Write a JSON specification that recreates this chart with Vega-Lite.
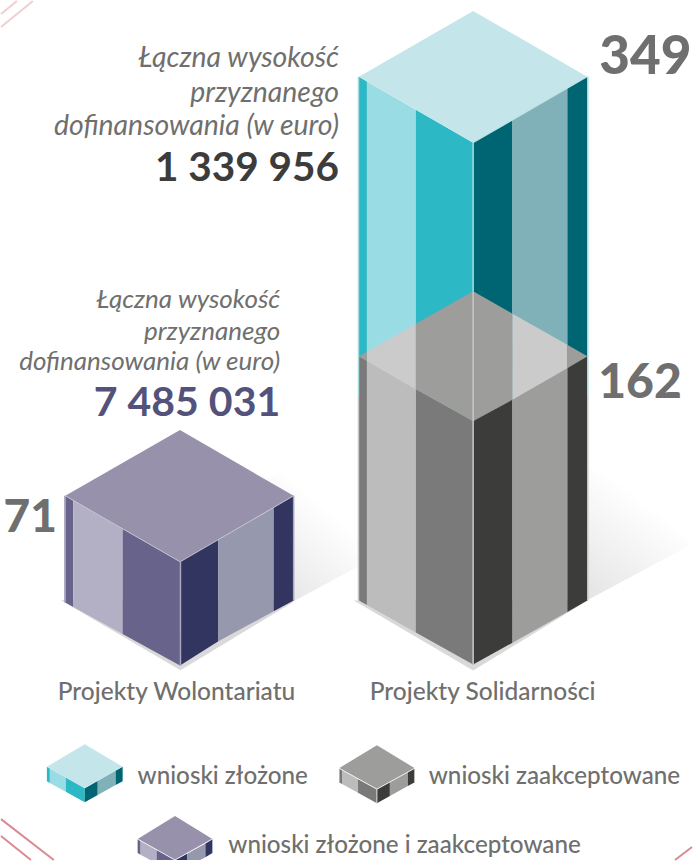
{"$schema":"https://vega.github.io/schema/vega-lite/v6.json","width":693,"height":861,"padding":0,"autosize":{"type":"fit","contains":"padding"},"background":"white","view":{"stroke":null},
"datasets":{
"shapes":[
{"p":"tb1","c":"cyan","x":359,"y":76,"y2":356},{"p":"tb1","c":"cyan","x":367,"y":80.6,"y2":360.6},
{"p":"tb2","c":"cyanL","x":367,"y":80.6,"y2":360.6},{"p":"tb2","c":"cyanL","x":416,"y":108.9,"y2":388.9},
{"p":"tb3","c":"cyan","x":416,"y":108.9,"y2":388.9},{"p":"tb3","c":"cyan","x":473.5,"y":142,"y2":421},
{"p":"tb4","c":"teal","x":473.5,"y":142,"y2":421},{"p":"tb4","c":"teal","x":513,"y":119.5,"y2":399.5},
{"p":"tb5","c":"tealL","x":513,"y":119.5,"y2":399.5},{"p":"tb5","c":"tealL","x":568,"y":87.8,"y2":367.8},
{"p":"tb6","c":"teal","x":568,"y":87.8,"y2":367.8},{"p":"tb6","c":"teal","x":588,"y":76,"y2":356},
{"p":"tbt","c":"iceTop","x":359,"y":76,"y2":76},{"p":"tbt","c":"iceTop","x":473.5,"y":10,"y2":142},{"p":"tbt","c":"iceTop","x":588,"y":76,"y2":76},
{"p":"tg1","c":"grayD","x":359,"y":356,"y2":601},{"p":"tg1","c":"grayD","x":367,"y":360.6,"y2":605.5},
{"p":"tg2","c":"grayL","x":367,"y":360.6,"y2":605.5},{"p":"tg2","c":"grayL","x":416,"y":388.9,"y2":632.9},
{"p":"tg3","c":"grayD","x":416,"y":388.9,"y2":632.9},{"p":"tg3","c":"grayD","x":473.5,"y":421,"y2":665},
{"p":"tg4","c":"char","x":473.5,"y":421,"y2":665},{"p":"tg4","c":"char","x":513,"y":399.5,"y2":643.2},
{"p":"tg5","c":"midG","x":513,"y":399.5,"y2":643.2},{"p":"tg5","c":"midG","x":568,"y":367.8,"y2":612.4},
{"p":"tg6","c":"char","x":568,"y":367.8,"y2":612.4},{"p":"tg6","c":"char","x":588,"y":356,"y2":601},
{"p":"gt1","c":"midG","x":359,"y":356,"y2":356},{"p":"gt1","c":"midG","x":367,"y":351.5,"y2":360.6},
{"p":"gt2","c":"paleG","x":367,"y":351.5,"y2":360.6},{"p":"gt2","c":"paleG","x":416,"y":323.6,"y2":388.9},
{"p":"gt3","c":"midG","x":416,"y":323.6,"y2":388.9},{"p":"gt3","c":"midG","x":473.5,"y":291,"y2":421},{"p":"gt3","c":"midG","x":513,"y":313.4,"y2":399.5},
{"p":"gt5","c":"paleG","x":513,"y":313.4,"y2":399.5},{"p":"gt5","c":"paleG","x":568,"y":344.6,"y2":367.8},
{"p":"gt6","c":"midG","x":568,"y":344.6,"y2":367.8},{"p":"gt6","c":"midG","x":588,"y":356,"y2":356},
{"p":"cbase","c":"base","x":60,"y":600.6,"y2":600.6},{"p":"cbase","c":"base","x":180,"y":600,"y2":670.7},{"p":"cbase","c":"base","x":294,"y":602,"y2":602},
{"p":"c1","c":"vio","x":64.5,"y":496,"y2":603},{"p":"c1","c":"vio","x":72.5,"y":500.6,"y2":607.4},
{"p":"c2","c":"vioL","x":72.5,"y":500.6,"y2":607.4},{"p":"c2","c":"vioL","x":122,"y":529,"y2":634.5},
{"p":"c3","c":"vio","x":122,"y":529,"y2":634.5},{"p":"c3","c":"vio","x":179.5,"y":562,"y2":666},
{"p":"c4","c":"navy","x":179.5,"y":562,"y2":666},{"p":"c4","c":"navy","x":218,"y":539.7,"y2":641.7},
{"p":"c5","c":"navyL","x":218,"y":539.7,"y2":641.7},{"p":"c5","c":"navyL","x":273.5,"y":507.8,"y2":611.7},
{"p":"c6","c":"navy","x":273.5,"y":507.8,"y2":611.7},{"p":"c6","c":"navy","x":293.5,"y":496,"y2":601},
{"p":"ct","c":"vioTop","x":64.5,"y":496,"y2":496},{"p":"ct","c":"vioTop","x":179.5,"y":430,"y2":562},{"p":"ct","c":"vioTop","x":293.5,"y":496,"y2":496},
{"p":"a1","c":"cyan","x":46,"y":767.5,"y2":782},{"p":"a1","c":"cyan","x":49,"y":769.2,"y2":783.7},
{"p":"a2","c":"cyanL","x":49,"y":769.2,"y2":783.7},{"p":"a2","c":"cyanL","x":65,"y":778.2,"y2":792.5},
{"p":"a3","c":"cyan","x":65,"y":778.2,"y2":792.5},{"p":"a3","c":"cyan","x":84,"y":789,"y2":803},
{"p":"a4","c":"teal","x":84,"y":789,"y2":803},{"p":"a4","c":"teal","x":97,"y":781.6,"y2":795.8},
{"p":"a5","c":"tealL","x":97,"y":781.6,"y2":795.8},{"p":"a5","c":"tealL","x":115,"y":771.4,"y2":785.9},
{"p":"a6","c":"teal","x":115,"y":771.4,"y2":785.9},{"p":"a6","c":"teal","x":122,"y":767.5,"y2":782},
{"p":"at","c":"iceTop","x":46,"y":767.5,"y2":767.5},{"p":"at","c":"iceTop","x":84,"y":745,"y2":789},{"p":"at","c":"iceTop","x":122,"y":767.5,"y2":767.5},
{"p":"b1","c":"grayD","x":339,"y":769,"y2":783},{"p":"b1","c":"grayD","x":342,"y":770.7,"y2":784.7},
{"p":"b2","c":"grayL","x":342,"y":770.7,"y2":784.7},{"p":"b2","c":"grayL","x":358,"y":779.7,"y2":793.5},
{"p":"b3","c":"grayD","x":358,"y":779.7,"y2":793.5},{"p":"b3","c":"grayD","x":377,"y":790,"y2":804},
{"p":"b4","c":"char","x":377,"y":790,"y2":804},{"p":"b4","c":"char","x":390,"y":782.8,"y2":796.8},
{"p":"b5","c":"midG","x":390,"y":782.8,"y2":796.8},{"p":"b5","c":"midG","x":408,"y":772.9,"y2":786.9},
{"p":"b6","c":"char","x":408,"y":772.9,"y2":786.9},{"p":"b6","c":"char","x":415,"y":769,"y2":783},
{"p":"bt","c":"midG","x":339,"y":769,"y2":769},{"p":"bt","c":"midG","x":377,"y":746,"y2":790},{"p":"bt","c":"midG","x":415,"y":769,"y2":769},
{"p":"d1","c":"vio","x":137,"y":840,"y2":854},{"p":"d1","c":"vio","x":140,"y":841.7,"y2":855.7},
{"p":"d2","c":"vioL","x":140,"y":841.7,"y2":855.7},{"p":"d2","c":"vioL","x":156,"y":850.7,"y2":864.5},
{"p":"d3","c":"vio","x":156,"y":850.7,"y2":864.5},{"p":"d3","c":"vio","x":174.5,"y":861,"y2":875},
{"p":"d4","c":"navy","x":174.5,"y":861,"y2":875},{"p":"d4","c":"navy","x":187,"y":854.3,"y2":868},
{"p":"d5","c":"navyL","x":187,"y":854.3,"y2":868},{"p":"d5","c":"navyL","x":205,"y":844.4,"y2":858.2},
{"p":"d6","c":"navy","x":205,"y":844.4,"y2":858.2},{"p":"d6","c":"navy","x":212,"y":840,"y2":854},
{"p":"dt","c":"vioTop","x":137,"y":840,"y2":840},{"p":"dt","c":"vioTop","x":174.5,"y":817,"y2":861},{"p":"dt","c":"vioTop","x":212,"y":840,"y2":840}
],
"tallBase":[{"p":"tbase","c":"base","x":354,"y":601,"y2":601},{"p":"tbase","c":"base","x":473.5,"y":600,"y2":671},{"p":"tbase","c":"base","x":590,"y":600,"y2":600}],
"edges":[
{"c":"edgeB","x":473.5,"y":142,"x2":473.5,"y2":291},{"c":"edgeG","x":473.5,"y":291,"x2":473.5,"y2":665},
{"c":"edgeB","x":358.5,"y":76,"x2":358.5,"y2":395},{"c":"edgeB","x":588.5,"y":76,"x2":588.5,"y2":395},
{"c":"edgeG","x":358.5,"y":395,"x2":358.5,"y2":601},{"c":"edgeG","x":588.5,"y":395,"x2":588.5,"y2":601},
{"c":"edgeV","x":180,"y":562,"x2":180,"y2":666},{"c":"edgeV","x":64,"y":496,"x2":64,"y2":603},{"c":"edgeV","x":293.5,"y":496,"x2":293.5,"y2":601}],
"thin":[
{"c":"edgeB","x":474,"y":142,"x2":588,"y2":76},
{"c":"edgeV2","x":64.5,"y":496,"x2":179.5,"y2":562},{"c":"edgeV2","x":180,"y":562,"x2":293.5,"y2":496},
{"c":"white","x":339,"y":769,"x2":377,"y2":790},{"c":"white","x":377,"y":790,"x2":415,"y2":769},{"c":"white","x":377,"y":790,"x2":377,"y2":804},{"c":"white","x":339,"y":769,"x2":339,"y2":783},{"c":"white","x":415,"y":769,"x2":415,"y2":783},
{"c":"white","x":137,"y":840,"x2":174.5,"y2":861},{"c":"white","x":174.5,"y":861,"x2":212,"y2":840}],
"pink":[
{"c":"pinkL","x":0,"y":26,"x2":32,"y2":0},{"c":"pinkL","x":0,"y":13,"x2":16,"y2":0},
{"c":"pinkD","x":0,"y":820,"x2":53,"y2":861},{"c":"pinkD","x":0,"y":837,"x2":30,"y2":861},{"c":"pinkD","x":676,"y":861,"x2":693,"y2":848}]
},
"encoding":{},
"layer":[
{"data":{"values":[{"x":580,"y":463,"y2":605},{"x":690,"y":522,"y2":546}]},"mark":{"type":"area","fill":{"gradient":"linear","x1":0,"y1":1,"x2":0.6,"y2":0,"stops":[{"offset":0,"color":"#e2e2e2"},{"offset":0.8,"color":"#ffffff"}]}},
"encoding":{"x":{"field":"x","type":"quantitative","scale":{"domain":[0,693],"nice":false,"zero":false},"axis":null},"y":{"field":"y","type":"quantitative","scale":{"domain":[861,0],"nice":false,"zero":false},"axis":null},"y2":{"field":"y2"}}},
{"data":{"values":[{"x":265,"y":480,"y2":605},{"x":293,"y":465,"y2":602},{"x":358,"y":510,"y2":567}]},"mark":{"type":"area","fill":{"gradient":"linear","x1":0,"y1":1,"x2":0.6,"y2":0,"stops":[{"offset":0,"color":"#e2e2e2"},{"offset":0.8,"color":"#ffffff"}]}},
"encoding":{"x":{"field":"x","type":"quantitative"},"y":{"field":"y","type":"quantitative"},"y2":{"field":"y2"}}},
{"data":{"name":"tallBase"},"mark":{"type":"area","clip":true},"encoding":{"x":{"field":"x","type":"quantitative"},"y":{"field":"y","type":"quantitative"},"y2":{"field":"y2"},"detail":{"field":"p"},"color":{"field":"c","legend":null,"scale":{"domain":["cyan","cyanL","teal","tealL","iceTop","grayD","grayL","char","midG","paleG","base","vio","vioL","navy","navyL","vioTop","edgeB","edgeG","edgeV","edgeV2","white","pinkL","pinkD"],"range":["#2cb8c5","#99dce3","#006573","#81b1b8","#c4e5ea","#7a7a7a","#bcbcbc","#3c3c3b","#9d9d9c","#cbcbcb","#d9d9d9","#67638a","#b3afc5","#323560","#9698ad","#9891ab","#a8dbe1","#c8c8c8","#a9a6c0","#c9c6d6","#ffffff","#f2cdd1","#d98a93"]}}}},
{"data":{"name":"shapes"},"mark":{"type":"area","clip":true},"encoding":{"x":{"field":"x","type":"quantitative"},"y":{"field":"y","type":"quantitative"},"y2":{"field":"y2"},"detail":{"field":"p"},"color":{"field":"c"}}},
{"data":{"name":"edges"},"mark":{"type":"rule","strokeWidth":1.5},"encoding":{"x":{"field":"x","type":"quantitative"},"y":{"field":"y","type":"quantitative"},"x2":{"field":"x2"},"y2":{"field":"y2"},"color":{"field":"c"}}},
{"data":{"name":"thin"},"mark":{"type":"rule","strokeWidth":0.8},"encoding":{"x":{"field":"x","type":"quantitative"},"y":{"field":"y","type":"quantitative"},"x2":{"field":"x2"},"y2":{"field":"y2"},"color":{"field":"c"}}},
{"data":{"name":"pink"},"mark":{"type":"rule","strokeWidth":2},"encoding":{"x":{"field":"x","type":"quantitative"},"y":{"field":"y","type":"quantitative"},"x2":{"field":"x2"},"y2":{"field":"y2"},"color":{"field":"c"}}},
{"data":{"values":[{"t":"Łączna wysokość","x":339,"y":66},{"t":"przyznanego","x":339,"y":101},{"t":"dofinansowania (w euro)","x":339,"y":134}]},"mark":{"type":"text","font":"Lato","fontStyle":"italic","fontSize":28.4,"align":"right","baseline":"alphabetic","color":"#6f6f6e"},"encoding":{"x":{"field":"x","type":"quantitative"},"y":{"field":"y","type":"quantitative"},"text":{"field":"t"}}},
{"data":{"values":[{"t":"Łączna wysokość","x":280,"y":308},{"t":"przyznanego","x":280,"y":340},{"t":"dofinansowania (w euro)","x":280,"y":370}]},"mark":{"type":"text","font":"Lato","fontStyle":"italic","fontSize":26,"align":"right","baseline":"alphabetic","color":"#6f6f6e"},"encoding":{"x":{"field":"x","type":"quantitative"},"y":{"field":"y","type":"quantitative"},"text":{"field":"t"}}},
{"data":{"values":[{"t":"1 339 956","x":339,"y":180}]},"mark":{"type":"text","font":"Lato","fontWeight":"bold","fontSize":40.5,"align":"right","baseline":"alphabetic","color":"#3c3c3b"},"encoding":{"x":{"field":"x","type":"quantitative"},"y":{"field":"y","type":"quantitative"},"text":{"field":"t"}}},
{"data":{"values":[{"t":"7 485 031","x":280,"y":416}]},"mark":{"type":"text","font":"Lato","fontWeight":"bold","fontSize":41,"align":"right","baseline":"alphabetic","color":"#52527c"},"encoding":{"x":{"field":"x","type":"quantitative"},"y":{"field":"y","type":"quantitative"},"text":{"field":"t"}}},
{"data":{"values":[{"t":"349","x":600,"y":73}]},"mark":{"type":"text","font":"Lato","fontWeight":900,"fontSize":53,"align":"left","baseline":"alphabetic","color":"#706f6f"},"encoding":{"x":{"field":"x","type":"quantitative"},"y":{"field":"y","type":"quantitative"},"text":{"field":"t"}}},
{"data":{"values":[{"t":"162","x":599,"y":398}]},"mark":{"type":"text","font":"Lato","fontWeight":900,"fontSize":48,"align":"left","baseline":"alphabetic","color":"#706f6f"},"encoding":{"x":{"field":"x","type":"quantitative"},"y":{"field":"y","type":"quantitative"},"text":{"field":"t"}}},
{"data":{"values":[{"t":"71","x":56,"y":532}]},"mark":{"type":"text","font":"Lato","fontWeight":900,"fontSize":46,"align":"right","baseline":"alphabetic","color":"#706f6f"},"encoding":{"x":{"field":"x","type":"quantitative"},"y":{"field":"y","type":"quantitative"},"text":{"field":"t"}}},
{"data":{"values":[{"t":"Projekty Wolontariatu","x":176,"y":701},{"t":"Projekty Solidarności","x":483,"y":701}]},"mark":{"type":"text","font":"Lato","fontWeight":500,"fontSize":24.5,"align":"center","baseline":"alphabetic","color":"#6f6f6e"},"encoding":{"x":{"field":"x","type":"quantitative"},"y":{"field":"y","type":"quantitative"},"text":{"field":"t"}}},
{"data":{"values":[{"t":"wnioski złożone","x":137,"y":785},{"t":"wnioski zaakceptowane","x":429,"y":785},{"t":"wnioski złożone i zaakceptowane","x":228,"y":854}]},"mark":{"type":"text","font":"Lato","fontWeight":500,"fontSize":24.2,"align":"left","baseline":"alphabetic","color":"#6f6f6e"},"encoding":{"x":{"field":"x","type":"quantitative"},"y":{"field":"y","type":"quantitative"},"text":{"field":"t"}}}
]}
